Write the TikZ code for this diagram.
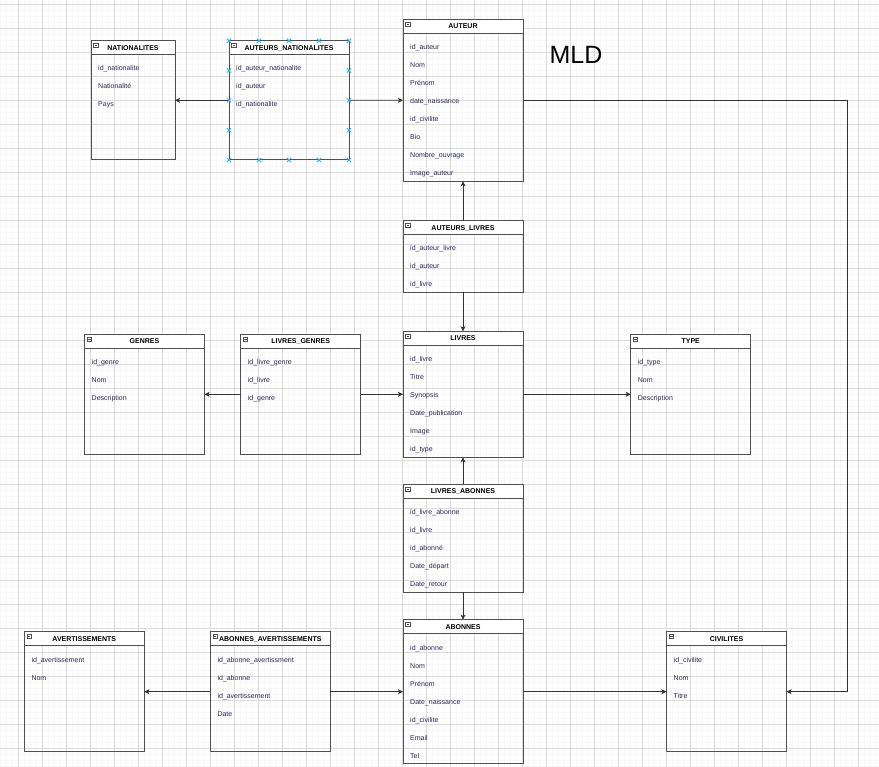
\documentclass[tikz,border=0pt]{standalone}
\usepackage{fontspec}
\setmainfont{Liberation Sans}
\usetikzlibrary{calc,arrows.meta}
\definecolor{gridmajor}{HTML}{DCDCDC}
\definecolor{gridminor}{HTML}{F7F7F7}
\definecolor{boxline}{HTML}{505050}
\definecolor{fieldtxt}{HTML}{2A2A55}
\definecolor{selblue}{HTML}{29B6F2}
\definecolor{conn}{HTML}{333333}
\tikzset{
 tbl/.style={draw=boxline, line width=1pt, rectangle, inner sep=0pt, outer sep=0pt},
 fld/.style={font=\fontsize{7}{8}\selectfont, text=fieldtxt, inner sep=0pt, anchor=base west},
 ttl/.style={font=\fontsize{7}{8}\selectfont\bfseries, inner sep=0pt, anchor=base},
 arr/.style={draw=conn, line width=0.8pt, -{Stealth[length=5pt,width=5pt,inset=1.2pt]}},
 gmin/.style={draw=gridminor, line width=0.5pt},
 gmaj/.style={draw=gridmajor, line width=0.8pt},
 selmark/.style={draw=selblue, line width=0.8pt},
 icon/.style={draw=boxline, fill=white, line width=0.5pt},
}
\newcommand\ertable[7]{%
 \fill[white] (#2,#3) rectangle ++(#4,14);
 \node[tbl, minimum width=#4pt, minimum height=#5pt, anchor=north west] (#1) at (#2,#3) {};
 \draw[draw=boxline, line width=1pt] ($(#1.north west)+(0,14)$) -- ($(#1.north east)+(0,14)$);
 \node[ttl] (#1-title) at ($(#1.north)+(0,9.6)$) {#6};
 \draw[icon] ($(#1.north west)+(2.5,2.5)$) rectangle ($(#1.north west)+(7,6.5)$);
 \draw[draw=boxline, line width=0.5pt] ($(#1.north west)+(3.5,4.5)$) -- ($(#1.north west)+(6,4.5)$);
 \foreach \f [count=\i] in {#7} {\node[fld] (#1-f\i) at ($(#1.north west)+(7,{12.3+18*\i})$) {\f};}
}
\begin{document}
\begin{tikzpicture}[x=1pt,y=-1pt]
\useasboundingbox (0,0) rectangle (879,767);
\fill[white] (0,0) rectangle (879,767);
% grid
\foreach \x in {0.5,6.5,...,879} \draw[gmin] (\x,0) -- (\x,767);
\foreach \y in {4,10,...,767} \draw[gmin] (0,\y) -- (879,\y);
\foreach \x in {18.5,42.5,...,879} \draw[gmaj] (\x,0) -- (\x,767);
\foreach \y in {4,28,...,767} \draw[gmaj] (0,\y) -- (879,\y);

% tables
\ertable{nat}{91}{40.7}{84}{119.3}{NATIONALITES}{id\_nationalite,Nationalité,Pays}
\ertable{an}{229}{40.7}{120}{119.3}{AUTEURS\_NATIONALITES}{id\_auteur\_nationalite,id\_auteur,id\_nationalite}
\ertable{aut}{403}{19.3}{120}{162}{AUTEUR}{id\_auteur,Nom,Prénom,date\_naissance,id\_civilite,Bio,Nombre\_ouvrage,Image\_auteur}
\ertable{al}{403}{220.7}{120}{71.6}{AUTEURS\_LIVRES}{id\_auteur\_livre,id\_auteur,id\_livre}
\ertable{gen}{84.5}{334.3}{120}{120}{GENRES}{id\_genre,Nom,Description}
\ertable{lg}{240.7}{334.3}{120}{120}{LIVRES\_GENRES}{id\_livre\_genre,id\_livre,id\_genre}
\ertable{liv}{403}{331.3}{120}{126}{LIVRES}{id\_livre,Titre,Synopsis,Date\_publication,Image,id\_type}
\ertable{typ}{630.7}{334.3}{120}{120}{TYPE}{id\_type,Nom,Description}
\ertable{la}{403}{484.3}{120}{108}{LIVRES\_ABONNES}{id\_livre\_abonne,id\_livre,id\_abonné,Date\_départ,Date\_retour}
\ertable{abo}{403}{619.7}{120}{144}{ABONNES}{id\_abonne,Nom,Prénom,Date\_naissance,id\_civilite,Email,Tel}
\ertable{av}{24.3}{631.7}{120}{120}{AVERTISSEMENTS}{id\_avertissement,Nom}
\ertable{aa}{210.3}{631.7}{120}{120}{ABONNES\_AVERTISSEMENTS}{id\_abonne\_avertissment,id\_abonne,id\_avertissement,Date}
\ertable{civ}{666.5}{631.7}{120}{120}{CIVILITES}{id\_civilite,Nom,Titre}

% title
\node[font=\fontsize{25}{30}\selectfont, inner sep=0pt] (mld) at (576,55) {MLD};

% connectors
\draw[arr] (an.west) -- (nat.east);
\draw[arr] (an.east) -- (aut.west);
\draw[arr] (al.north) -- (aut.south);
\draw[arr] (al.south) -- (liv.north);
\draw[arr] (lg.west) -- (gen.east);
\draw[arr] (lg.east) -- (liv.west);
\draw[arr] (liv.east) -- (typ.west);
\draw[arr] (la.north) -- (liv.south);
\draw[arr] (la.south) -- (abo.north);
\draw[arr] (aa.west) -- (av.east);
\draw[arr] (aa.east) -- (abo.west);
\draw[arr] (abo.east) -- (civ.west);
\coordinate (bend) at (847,0);
\draw[arr] (aut.east) -| (bend |- civ.east) -- (civ.east);

% selection markers
\foreach \x in {229,259,289,319,349} \foreach \y in {40.7,160}
  \draw[selmark] (\x-2.2,\y-2.2) -- (\x+2.2,\y+2.2) (\x-2.2,\y+2.2) -- (\x+2.2,\y-2.2);
\foreach \x in {229,349} \foreach \y in {70.5,100.35,130.2}
  \draw[selmark] (\x-2.2,\y-2.2) -- (\x+2.2,\y+2.2) (\x-2.2,\y+2.2) -- (\x+2.2,\y-2.2);
\end{tikzpicture}
\end{document}
